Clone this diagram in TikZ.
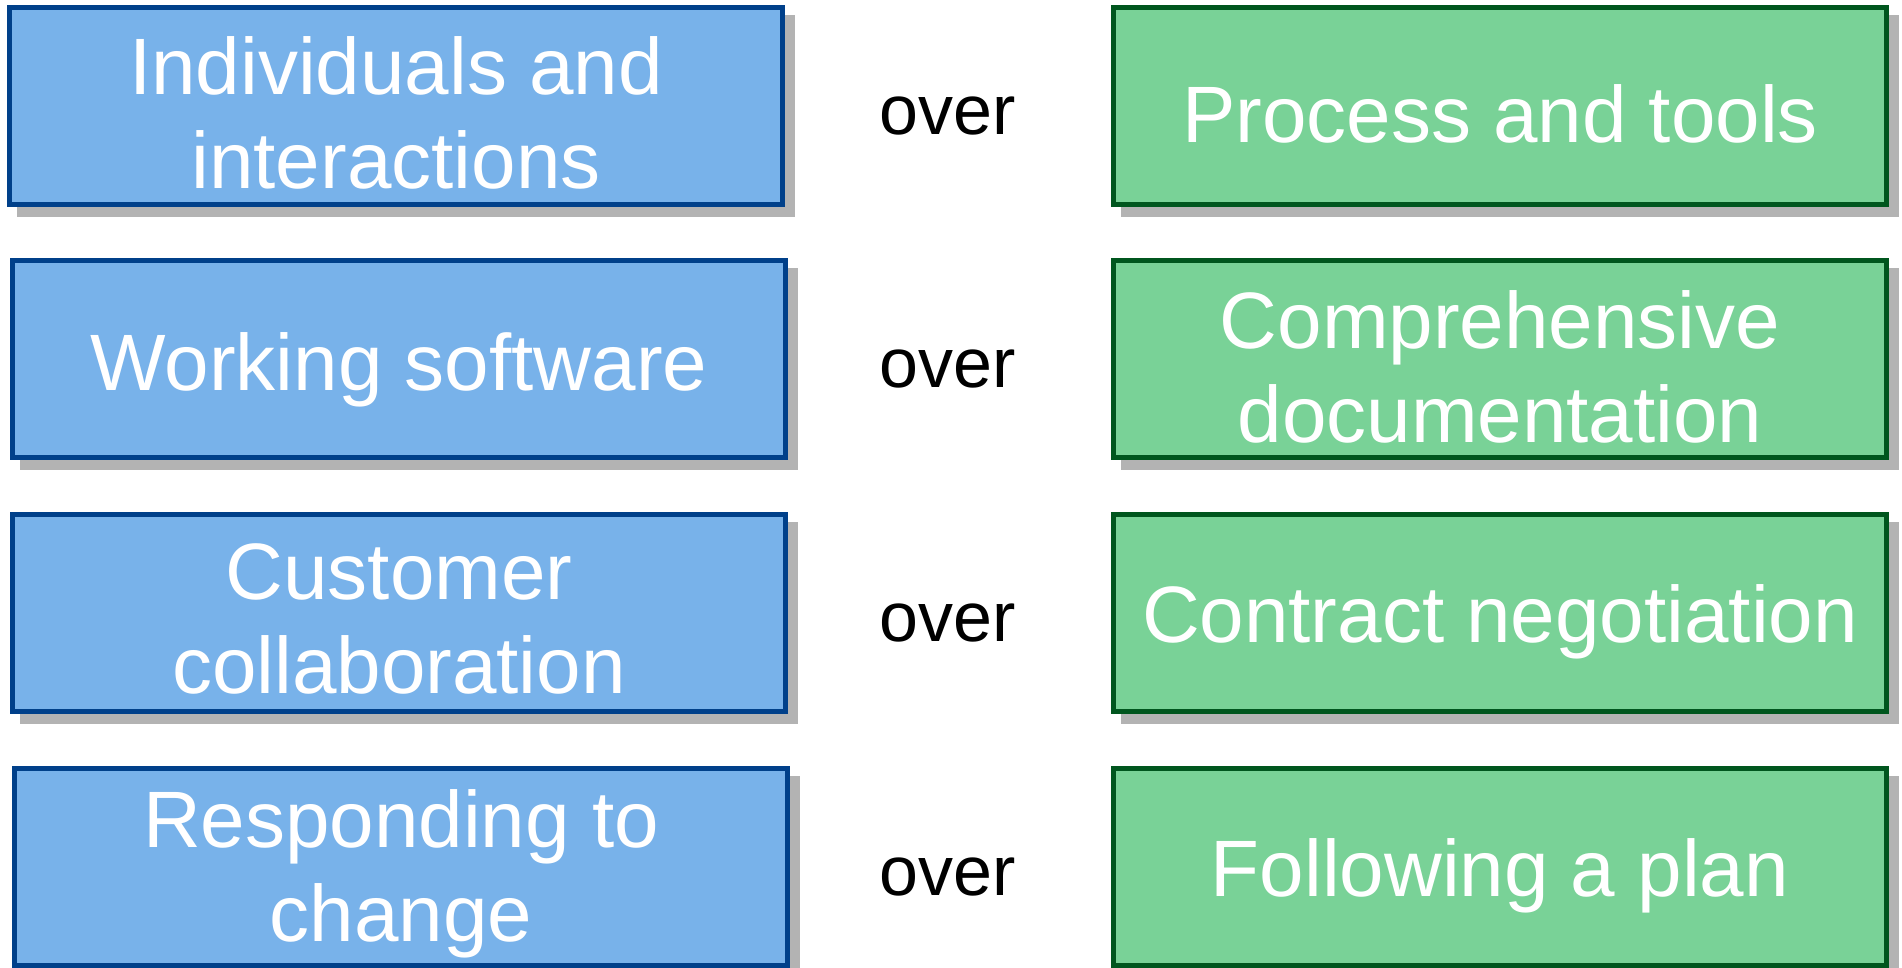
\documentclass[tikz,border=0pt]{standalone}
\usepackage{fontspec}
\setmainfont{Liberation Sans}
\usetikzlibrary{shadows}
\definecolor{valblue}{HTML}{78B2EA}
\definecolor{valblueline}{HTML}{00408A}
\definecolor{valgreen}{HTML}{79D297}
\definecolor{valgreenline}{HTML}{00561E}
\definecolor{shadowgray}{HTML}{B3B3B3}

\tikzset{
  valbox/.style={rectangle, minimum width=773pt, minimum height=197pt,
    inner sep=0pt, line width=5pt,
    drop shadow={shadow xshift=10pt, shadow yshift=-10pt, opacity=1,
      fill=shadowgray, draw=shadowgray, line width=5pt}},
  leftbox/.style={valbox, fill=valblue, draw=valblueline},
  rightbox/.style={valbox, fill=valgreen, draw=valgreenline},
  boxtext/.style={align=center, text=white, inner sep=0pt,
    font=\fontsize{80}{94}\selectfont},
  overtext/.style={font=\fontsize{70}{84}\selectfont, text=black, inner sep=0pt}
}

\begin{document}
\begin{tikzpicture}[x=1pt,y=1pt]
        \useasboundingbox (0,0) rectangle (1902,968);
        %valued more (left column)
        \node[leftbox] (indiv) at (396,862) {};
        \node[leftbox] (soft) at (399,608.5) {};
        \node[leftbox] (cust) at (399,355) {};
        \node[leftbox] (resp) at (401,101) {};
        \node[boxtext] (indivtxt) at ([yshift=-7pt]indiv.center) {Individuals and\\interactions};
        \node[boxtext] (softtxt) at ([yshift=-10pt]soft.center) {Working software};
        \node[boxtext] (custtxt) at ([yshift=-6pt]cust.center) {Customer\\collaboration};
        \node[boxtext] (resptxt) at ([yshift=-7pt]resp.center) {Responding to\\change};
        %valued less (right column)
        \node[rightbox] (proc) at (1500,862) {};
        \node[rightbox] (docs) at (1500,608.5) {};
        \node[rightbox] (contr) at (1500,355) {};
        \node[rightbox] (plan) at (1500,101) {};
        \node[boxtext] (proctxt) at ([yshift=-8pt]proc.center) {Process and tools};
        \node[boxtext] (docstxt) at ([yshift=-7pt]docs.center) {Comprehensive\\documentation};
        \node[boxtext] (contrtxt) at ([yshift=-9pt]contr.center) {Contract negotiation};
        \node[boxtext] (plantxt) at ([yshift=-9pt]plan.center) {Following a plan};
        %the word in between
        \node[overtext] (over1) at (948,852) {over};
        \node[overtext] (over2) at (948,598.5) {over};
        \node[overtext] (over3) at (948,345) {over};
        \node[overtext] (over4) at (948,91) {over};
    \end{tikzpicture}
\end{document}
